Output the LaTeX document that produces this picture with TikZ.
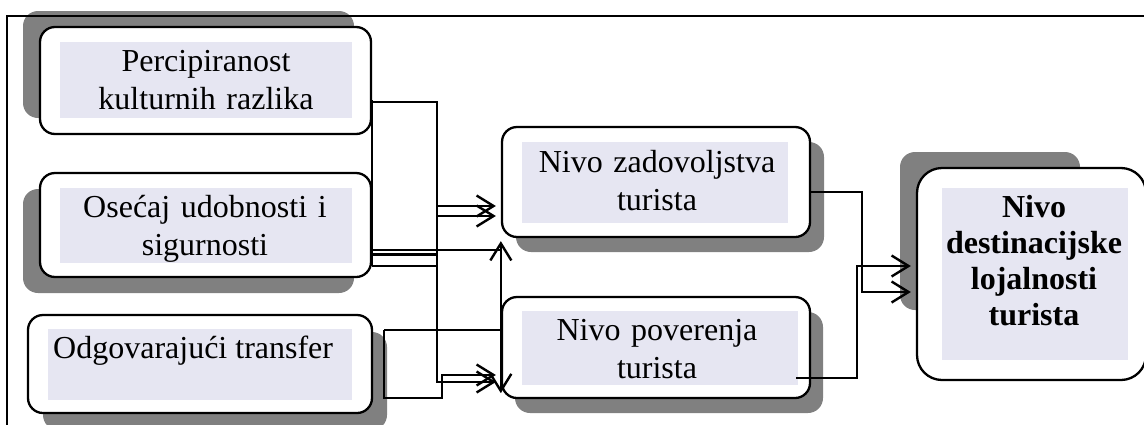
\documentclass[tikz,border=0pt]{standalone}
\usepackage{fontspec}
\setmainfont{Liberation Serif}
\usetikzlibrary{arrows.meta,calc}
\definecolor{dropgray}{RGB}{128,128,128}
\definecolor{panelfill}{RGB}{230,230,242}
\begin{document}
\begin{tikzpicture}[x=1pt,y=-1pt,
  drop/.style={fill=dropgray, draw=none, rounded corners=15pt},
  card/.style={rectangle, draw, line width=2.3pt, fill=white, rounded corners=15pt, inner sep=0pt},
  panel/.style={rectangle, fill=panelfill, draw=none, inner sep=0pt},
  lbl/.style={inner sep=0pt, align=center, font=\fontsize{32}{38}\selectfont},
  link/.style={line width=2.4pt},
  arrowed/.style={-{Straight Barb[length=17pt,width=21pt]}},
  twoway/.style={{Straight Barb[length=17pt,width=21pt]}-{Straight Barb[length=17pt,width=21pt]}},
]
\useasboundingbox (0,0) rectangle (1144,424);

% drop shadows behind the boxes
\fill[drop] (23,11) rectangle (354,118);
\fill[drop] (23,189) rectangle (354,293);
\fill[drop] (43,332) rectangle (387,430);
\fill[drop] (516,142) rectangle (824,252);
\fill[drop] (515,312) rectangle (823,413);
\fill[drop] (900,152) rectangle (1080,310);

% outer frame
\draw[line width=2.3pt] (7,16) rectangle (1156,436);

% boxes
\node[card, minimum width=331pt, minimum height=107pt] (b1) at (205.5,80.5) {};
\node[card, minimum width=331pt, minimum height=104pt] (b2) at (205.5,225) {};
\node[card, minimum width=344pt, minimum height=98pt] (b3) at (200,364) {};
\node[card, minimum width=308pt, minimum height=110pt] (b4) at (656,182) {};
\node[card, minimum width=308pt, minimum height=101pt] (b5) at (656,347.5) {};
\node[card, rounded corners=25pt, minimum width=229pt, minimum height=212pt] (b6) at (1031.5,274) {};

% tinted text panels
\node[panel, minimum width=292pt, minimum height=76pt] (b1f) at (206,80) {};
\node[panel, minimum width=292pt, minimum height=75pt] (b2f) at (206,225.5) {};
\node[panel, minimum width=304pt, minimum height=71pt] (b3f) at (200,364.5) {};
\node[panel, minimum width=266pt, minimum height=81pt] (b4f) at (655,182.5) {};
\node[panel, minimum width=276pt, minimum height=74pt] (b5f) at (660,348) {};
\node[panel, minimum width=186pt, minimum height=172pt] (b6f) at (1035,274) {};

% labels
\node[lbl, text width=292pt, anchor=base] (b1t) at (206,71) {Percipiranost\\kulturnih razlika};
\node[lbl, text width=292pt, anchor=base] (b2t) at (205,217) {Osećaj udobnosti i\\sigurnosti};
\node[lbl, anchor=base west] (b3t) at (53,358) {Odgovarajući transfer};
\node[lbl, text width=300pt, anchor=base] (b4t) at (657,172) {Nivo zadovoljstva\\turista};
\node[lbl, text width=300pt, anchor=base] (b5t) at (657,340) {Nivo poverenja\\turista};
\node[lbl, text width=200pt, anchor=base, font=\fontsize{32}{36}\selectfont\bfseries] (b6t) at (1034,217) {Nivo\\destinacijske\\lojalnosti\\turista};

% connector start points off the box edges
\coordinate (b3out) at ([xshift=11pt]b3.east);
\coordinate (b5out) at ([xshift=-15pt]b5.east);

% left-hand connectors
\draw[link] (b1.east |- 0,100) -- (b2.east |- 0,266);
\draw[link,arrowed,shorten >=5pt] (b1.east |- 0,102) -- (437,102) -- (437,382) -- (b5.west |- 0,382);
\draw[link,arrowed,shorten >=5pt] (437,206) -- (b4.west |- 0,206);
\draw[link,arrowed,shorten >=5pt] (437,216) -- (b4.west |- 0,216);
\draw[link] (b2.east |- 0,250) -- (b4.west |- 0,250);
\draw[link] (b2.east |- 0,254.5) -- (437,254.5);
\draw[link] (b2.east |- 0,266) -- (437,266);
\draw[link,twoway,shorten <=6pt,shorten >=3pt] (b5.south west) -- (b4.south west);
\draw[link] (b3out |- 0,330) -- (b5.west |- 0,330);
\draw[link,arrowed,shorten >=5pt] (b3out |- 0,330) -- (b3out |- 0,398) -- (442,398) -- (442,375) -- (b5.west |- 0,375);

% right-hand connectors
\draw[link,arrowed,shorten >=5pt] (b4.east |- 0,192) -- (862,192) -- (862,292) -- (b6.west |- 0,292);
\draw[link,arrowed,shorten >=5pt] (b5out |- 0,378) -- (857,378) -- (857,266) -- (b6.west |- 0,266);
\end{tikzpicture}
\end{document}
